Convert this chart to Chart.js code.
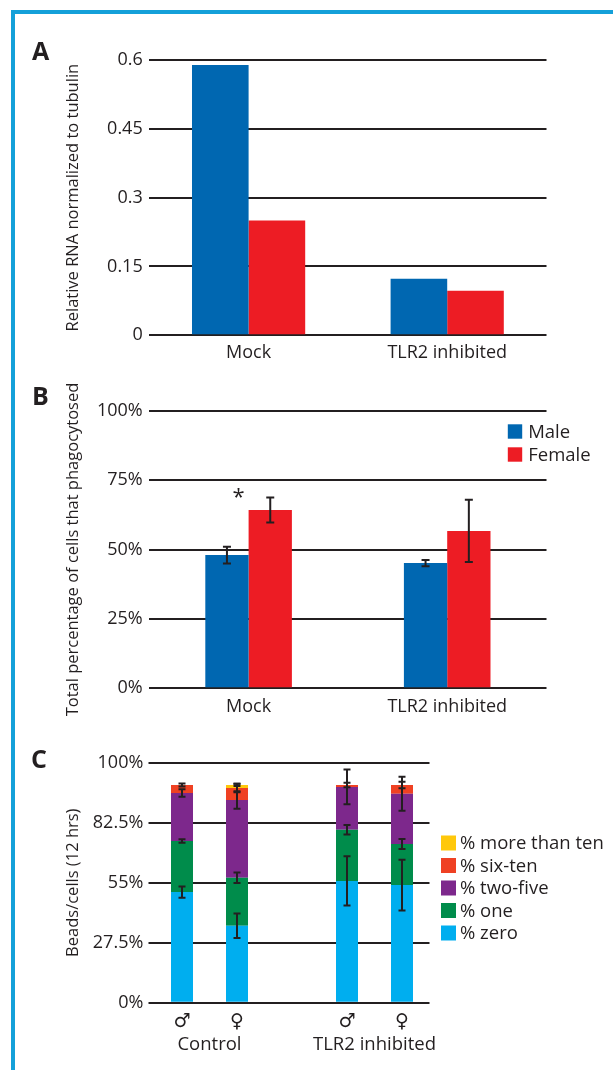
<!DOCTYPE html>
<html>
<head>
<meta charset="utf-8">
<script src="https://cdn.jsdelivr.net/npm/chart.js@4.4.0/dist/chart.umd.min.js"></script>
<style>
  html, body { margin: 0; padding: 0; background: #fff; }
  body { width: 613px; height: 1070px; position: relative; overflow: hidden; }
  canvas { position: absolute; left: 0; }
  .frame-top { position: absolute; left: 11px; top: 10px; width: 602px; height: 4px; background: #14a0d9; }
  .frame-left { position: absolute; left: 11px; top: 10px; width: 4px; height: 1060px; background: #14a0d9; }
</style>
</head>
<body>
<div class="frame-top"></div>
<div class="frame-left"></div>
<canvas id="chartA" width="613" height="370" style="top:0"></canvas>
<canvas id="chartB" width="613" height="360" style="top:370px"></canvas>
<canvas id="chartC" width="613" height="340" style="top:730px"></canvas>
<script>
// panel A - relative RNA
const rnaGroups = ['Mock', 'TLR2 inhibited'];
const rnaMale = [0.589, 0.123];
const rnaFemale = [0.250, 0.097];
const rnaTicks = ['0', '0.15', '0.3', '0.45', '0.6'];

// panel B - phagocytosis
const phagoGroups = ['Mock', 'TLR2 inhibited'];
const phagoMale = [48.0, 45.1];
const phagoMaleErr = [3.0, 1.1];
const phagoFemale = [64.2, 56.7];
const phagoFemaleErr = [4.5, 11.2];
const phagoTicks = ['0%', '25%', '50%', '75%', '100%'];

// panel C - beads per cell, stacked
const beadSexes = ['♂', '♀', '♂', '♀'];
const beadGroups = ['Control', 'TLR2 inhibited'];
const beadLabels = ['% zero', '% one', '% two-five', '% six-ten', '% more than ten'];
const beadZero = [50.7, 35.3, 55.8, 53.9];
const beadOne = [23.4, 22.0, 23.5, 18.8];
const beadTwoFive = [22.0, 35.6, 19.6, 23.1];
const beadSixTen = [3.7, 5.5, 0.9, 4.0];
const beadMoreTen = [0, 1.4, 0, 0];
const beadZeroErr = [2.6, 5.6, 11.3, 11.6];
const beadOneErr = [0.8, 2.4, 2.2, 2.3];
const beadTwoFiveErr = [1.7, 4.0, 8.0, 7.8];
const beadSixTenErr = [0.7, 2.0, 1.0, 1.5];
const beadMoreTenErr = [0, 0.5, 0, 0];
const beadTicks = ['0%', '27.5%', '55%', '82.5%', '100%'];

const ink = '#231f20';
const blue = '#0067b1';
const red = '#ed1c24';
const beadColors = ['#00aeef', '#008c4b', '#7d288c', '#ef4123', '#ffc80b'];

Chart.defaults.font.family = '"Open Sans", sans-serif';
Chart.defaults.font.size = 18;
Chart.defaults.color = ink;
Chart.defaults.animation = false;
Chart.defaults.plugins.legend.display = false;
Chart.defaults.plugins.tooltip.enabled = false;

// the empty slot between the two groups of panel C
const withGap = a => [a[0], a[1], null, a[2], a[3]];

// ---- small plugins ----
function panelLetter(ch, x, y) {
  return {
    id: 'panelLetter',
    afterDraw(chart) {
      const ctx = chart.ctx;
      ctx.save();
      ctx.font = 'bold 25px "Open Sans"';
      ctx.fillStyle = ink;
      ctx.fillText(ch, x, y);
      ctx.restore();
    }
  };
}

function sideTitle(text) {
  return {
    id: 'sideTitle',
    afterDraw(chart) {
      const {ctx, chartArea} = chart;
      ctx.save();
      ctx.translate(73, (chartArea.top + chartArea.bottom) / 2);
      ctx.rotate(-Math.PI / 2);
      ctx.font = '16.5px "Open Sans"';
      ctx.fillStyle = ink;
      ctx.textAlign = 'center';
      ctx.textBaseline = 'middle';
      ctx.fillText(text, 0, 0);
      ctx.restore();
    }
  };
}

function errorBars(errs, cap) {
  return {
    id: 'errorBars',
    afterDatasetsDraw(chart) {
      const ctx = chart.ctx;
      const y = chart.scales.y;
      ctx.save();
      ctx.strokeStyle = ink;
      ctx.lineWidth = 2;
      errs.forEach((arr, di) => {
        const meta = chart.getDatasetMeta(di);
        arr.forEach((e, j) => {
          if (!e) return;
          const bar = meta.data[j];
          const d = y.getPixelForValue(0) - y.getPixelForValue(e);
          ctx.beginPath();
          ctx.moveTo(bar.x, bar.y - d);
          ctx.lineTo(bar.x, bar.y + d);
          ctx.moveTo(bar.x - cap / 2, bar.y - d);
          ctx.lineTo(bar.x + cap / 2, bar.y - d);
          ctx.moveTo(bar.x - cap / 2, bar.y + d);
          ctx.lineTo(bar.x + cap / 2, bar.y + d);
          ctx.stroke();
        });
      });
      ctx.restore();
    }
  };
}

function boxLegend(o) {
  return {
    id: 'boxLegend',
    afterDraw(chart) {
      const {ctx, chartArea} = chart;
      const sets = chart.data.datasets.slice();
      if (o.reverse) sets.reverse();
      ctx.save();
      ctx.font = '18.5px "Open Sans"';
      ctx.textBaseline = 'middle';
      sets.forEach((ds, i) => {
        const cy = chartArea.top + o.top + i * o.pitch;
        const x = chartArea.right + o.left;
        ctx.fillStyle = ds.backgroundColor;
        ctx.fillRect(x, cy - o.box / 2, o.box, o.box);
        ctx.fillStyle = ink;
        ctx.fillText(ds.label, x + o.box + o.gap, cy + 1);
      });
      ctx.restore();
    }
  };
}

const significance = {
  id: 'significance',
  afterDraw(chart) {
    const {ctx} = chart;
    const x = chart.scales.x, y = chart.scales.y;
    const cx = x.getPixelForValue(0) - 10;
    const cy = y.getPixelForValue(phagoFemale[0] + phagoFemaleErr[0]) - 6;
    ctx.save();
    ctx.font = '22px "Open Sans"';
    ctx.fillStyle = ink;
    ctx.textAlign = 'center';
    ctx.fillText('*', cx, cy + 12);
    ctx.restore();
  }
};

const groupNames = {
  id: 'groupNames',
  afterDraw(chart) {
    const {ctx} = chart;
    const x = chart.scales.x;
    ctx.save();
    ctx.font = '18.5px "Open Sans"';
    ctx.fillStyle = ink;
    ctx.textAlign = 'center';
    beadGroups.forEach((g, k) => {
      const i = k * 3;
      const cx = (x.getPixelForValue(i) + x.getPixelForValue(i + 1)) / 2;
      ctx.fillText(g, cx, x.top + 47);
    });
    ctx.restore();
  }
};

function yGrid(extra) {
  return Object.assign({ color: ink, lineWidth: 2, drawTicks: false }, extra || {});
}

// ---- A ----
new Chart(document.getElementById('chartA'), {
  type: 'bar',
  data: {
    labels: rnaGroups,
    datasets: [
      { label: 'Male', data: rnaMale, backgroundColor: blue },
      { label: 'Female', data: rnaFemale, backgroundColor: red }
    ]
  },
  options: {
    responsive: false,
    layout: { padding: { top: 60, right: 66.5, bottom: 0, left: 0 } },
    datasets: { bar: { categoryPercentage: 0.57, barPercentage: 1, borderWidth: 0 } },
    scales: {
      x: {
        grid: { display: false, drawTicks: false },
        border: { display: false },
        ticks: { padding: 7, autoSkip: false, maxRotation: 0 },
        afterFit: s => { s.height = 34.7; }
      },
      y: {
        min: 0, max: 0.6,
        grid: yGrid(),
        border: { display: false },
        ticks: { stepSize: 0.15, padding: 6.6, callback: (v, i) => rnaTicks[i] },
        afterFit: s => { s.width = 149.3; }
      }
    }
  },
  plugins: [panelLetter('A', 32, 60), sideTitle('Relative RNA normalized to tubulin')]
});

// ---- B ----
new Chart(document.getElementById('chartB'), {
  type: 'bar',
  data: {
    labels: phagoGroups,
    datasets: [
      { label: 'Male', data: phagoMale, backgroundColor: blue },
      { label: 'Female', data: phagoFemale, backgroundColor: red }
    ]
  },
  options: {
    responsive: false,
    layout: { padding: { top: 40.7, right: 66.5, bottom: 0, left: 0 } },
    datasets: { bar: { categoryPercentage: 0.436, barPercentage: 1, borderWidth: 0 } },
    scales: {
      x: {
        grid: { display: false, drawTicks: false },
        border: { display: false },
        ticks: { padding: 8, autoSkip: false, maxRotation: 0 },
        afterFit: s => { s.height = 41.7; }
      },
      y: {
        min: 0, max: 100,
        grid: yGrid(),
        border: { display: false },
        ticks: { stepSize: 25, padding: 6.6, callback: (v, i) => phagoTicks[i] },
        afterFit: s => { s.width = 149.3; }
      }
    }
  },
  plugins: [
    panelLetter('B', 32, 35),
    sideTitle('Total percentage of cells that phagocytosed'),
    errorBars([phagoMaleErr, phagoFemaleErr], 8),
    boxLegend({ left: -38.7, top: 20.8, pitch: 23, box: 14.4, gap: 6, reverse: false }),
    significance
  ]
});

// ---- C ----
const beadSeries = [beadZero, beadOne, beadTwoFive, beadSixTen, beadMoreTen];
const beadErrSeries = [beadZeroErr, beadOneErr, beadTwoFiveErr, beadSixTenErr, beadMoreTenErr];

new Chart(document.getElementById('chartC'), {
  type: 'bar',
  data: {
    labels: withGap(beadSexes).map(s => s || ''),
    datasets: beadSeries.map((d, i) => ({
      label: beadLabels[i],
      data: withGap(d),
      backgroundColor: beadColors[i]
    }))
  },
  options: {
    responsive: false,
    layout: { padding: { top: 32.7, right: 183.5, bottom: 0, left: 0 } },
    datasets: { bar: { categoryPercentage: 0.4, barPercentage: 1, borderWidth: 0 } },
    scales: {
      x: {
        stacked: true,
        grid: { display: false, drawTicks: false },
        border: { display: false },
        ticks: { padding: 8, autoSkip: false, maxRotation: 0, font: { family: '"DejaVu Sans"', size: 19, weight: 'bold' } },
        afterFit: s => { s.height = 67.3; }
      },
      y: {
        stacked: true,
        min: 0, max: 110,
        grid: yGrid({ drawTicks: true, tickLength: 6 }),
        border: { display: false },
        ticks: { stepSize: 27.5, padding: 5.2, callback: (v, i) => beadTicks[i] },
        afterFit: s => { s.width = 154.5; }
      }
    }
  },
  plugins: [
    panelLetter('C', 31, 38),
    sideTitle('Beads/cells (12 hrs)'),
    errorBars(beadErrSeries.map(withGap), 7),
    boxLegend({ left: 11.5, top: 80.3, pitch: 22.5, box: 15, gap: 4, reverse: true }),
    groupNames
  ]
});
</script>
</body>
</html>
